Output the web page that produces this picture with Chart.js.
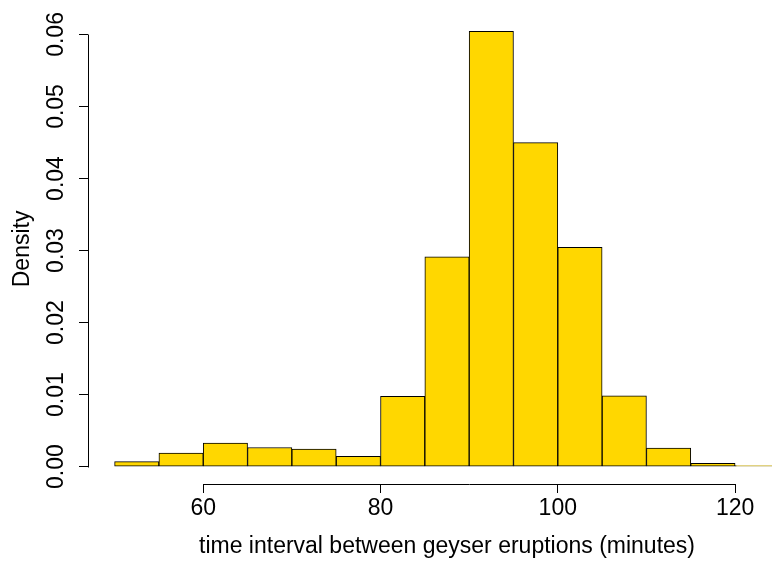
<!DOCTYPE html>
<html>
<head>
<meta charset="utf-8">
<script src="https://cdn.jsdelivr.net/npm/chart.js@4/dist/chart.umd.min.js"></script>
<style>
  html, body { margin: 0; padding: 0; background: #fff; overflow: hidden; }
  #wrap { width: 772px; height: 563px; overflow: hidden; }
</style>
</head>
<body>
<div id="wrap"><canvas id="hist" width="840" height="563"></canvas></div>
<script>
// histogram of waiting times, bins of 5 minutes
var breaks = [50, 55, 60, 65, 70, 75, 80, 85, 90, 95, 100, 105, 110, 115, 120, 125];
var density = [0.00068, 0.00188, 0.00325, 0.00265, 0.00242, 0.00141, 0.00977, 0.02914,
  0.06045, 0.04497, 0.03045, 0.00982, 0.00256, 0.00045, 0.00015];
var xTicks = [60, 80, 100, 120];
var yTicks = [0, 0.01, 0.02, 0.03, 0.04, 0.05, 0.06];

var font = { family: "'Liberation Sans', Arial, Helvetica, sans-serif", size: 23 };

var points = density.map(function(d, i) {
  return { x: (breaks[i] + breaks[i + 1]) / 2, y: d };
});

// R style axes: line only from first to last tick
var axisLines = {
  id: "axisLines",
  afterDraw: function(chart) {
    var ctx = chart.ctx;
    var xs = chart.scales.x, ys = chart.scales.y;
    var area = chart.chartArea;
    ctx.save();
    ctx.strokeStyle = "#000";
    ctx.lineWidth = 1;
    ctx.beginPath();
    var yb = Math.round(area.bottom) + 0.5;
    ctx.moveTo(Math.round(xs.getPixelForValue(xTicks[0])) + 0.5, yb);
    ctx.lineTo(Math.round(xs.getPixelForValue(xTicks[xTicks.length - 1])) + 0.5, yb);
    var xl = Math.round(area.left) + 0.5;
    ctx.moveTo(xl, Math.round(ys.getPixelForValue(yTicks[0])) + 0.5);
    ctx.lineTo(xl, Math.round(ys.getPixelForValue(yTicks[yTicks.length - 1])) + 0.5);
    ctx.stroke();
    ctx.restore();
  }
};

var ymax = Math.max.apply(null, density);

new Chart(document.getElementById("hist").getContext("2d"), {
  type: "bar",
  data: {
    datasets: [{
      data: points,
      backgroundColor: "#FFD700",
      borderColor: "#000",
      borderWidth: 1,
      borderSkipped: false,
      barPercentage: 1,
      categoryPercentage: 1
    }]
  },
  options: {
    responsive: false,
    animation: false,
    events: [],
    layout: { padding: { top: 7, right: 34, left: 0, bottom: 0 } },
    plugins: { legend: { display: false }, tooltip: { enabled: false } },
    scales: {
      x: {
        type: "linear",
        min: 47,
        max: 128,
        offset: false,
        afterBuildTicks: function(s) { s.ticks = xTicks.map(function(v) { return { value: v }; }); },
        afterFit: function(s) { s.height = 79; },
        border: { display: false },
        grid: { offset: false, drawOnChartArea: false, drawTicks: true, tickLength: 9, tickColor: "#000" },
        ticks: { color: "#000", font: font, padding: 2, maxRotation: 0, autoSkip: false },
        title: {
          display: true,
          text: "time interval between geyser eruptions (minutes)",
          color: "#000",
          font: font,
          padding: { top: 0, bottom: 3 }
        }
      },
      y: {
        min: -ymax * 0.04,
        max: ymax * 1.04,
        afterBuildTicks: function(s) { s.ticks = yTicks.map(function(v) { return { value: v }; }); },
        afterFit: function(s) { s.width = 88; },
        border: { display: false },
        grid: { drawOnChartArea: false, drawTicks: true, tickLength: 9, tickColor: "#000" },
        ticks: {
          color: "#000",
          font: font,
          padding: 0,
          minRotation: 90,
          maxRotation: 90,
          crossAlign: "center",
          autoSkip: false,
          callback: function(v) { return v.toFixed(2); }
        },
        title: {
          display: true,
          text: "Density",
          color: "#000",
          font: font,
          padding: { top: 9, bottom: 0 }
        }
      }
    }
  },
  plugins: [axisLines]
});
</script>
</body>
</html>
